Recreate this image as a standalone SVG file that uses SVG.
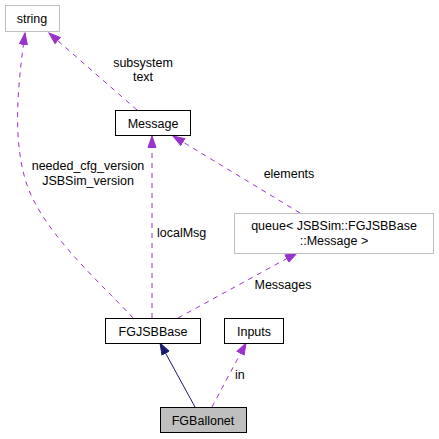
<svg xmlns="http://www.w3.org/2000/svg" width="439" height="439" viewBox="0 0 439 439">
<style>
text{font-family:"Liberation Sans",Arial,sans-serif;font-size:12.5px;fill:#000}
.c{text-anchor:middle}
.box{fill:#fff;stroke:#000;stroke-width:1}
.grey{fill:#fff;stroke:#bfbfbf;stroke-width:1}
.dash{fill:none;stroke:#9a32cd;stroke-width:1;stroke-dasharray:5,5}
.solid{fill:none;stroke:#191970;stroke-width:1}
</style>
<defs>
<marker id="ap" markerUnits="userSpaceOnUse" markerWidth="13" markerHeight="10" refX="12" refY="4.5" orient="auto" viewBox="0 0 13 9">
<polygon points="0.5,0.5 12,4.5 0.5,8.5" fill="#9a32cd" stroke="#9a32cd"/>
</marker>
<marker id="an" markerUnits="userSpaceOnUse" markerWidth="13" markerHeight="10" refX="12" refY="4.5" orient="auto" viewBox="0 0 13 9">
<polygon points="0.5,0.5 12,4.5 0.5,8.5" fill="#191970" stroke="#191970"/>
</marker>
</defs>
<g id="edges">
<path class="dash" d="M137,110 L49,33" marker-end="url(#ap)"/>
<path class="dash" d="M133,318 C100,282 42,232 26,182 C13,140 17,90 25,33" marker-end="url(#ap)"/>
<path class="dash" d="M152,318 L152,136" marker-end="url(#ap)"/>
<path class="dash" d="M300,213 L173,136" marker-end="url(#ap)"/>
<path class="dash" d="M178,318 L297,253" marker-end="url(#ap)"/>
<path class="solid" d="M195,407 L160,343" marker-end="url(#an)"/>
<path class="dash" d="M212,407 L246,343" marker-end="url(#ap)"/>
<text class="c" x="143" y="67">subsystem</text>
<text class="c" x="143" y="81">text</text>
<text class="c" x="88" y="170">needed_cfg_version</text>
<text class="c" x="88" y="185">JSBSim_version</text>
<text x="157" y="237">localMsg</text>
<text class="c" x="289" y="178">elements</text>
<text class="c" x="283" y="289">Messages</text>
<text x="235" y="379">in</text>
</g>
<g id="string"><rect class="grey" x="5.5" y="5.5" width="54" height="26"/><text class="c" x="32" y="22.5">string</text></g>
<g id="Message"><rect class="box" x="115.5" y="110.5" width="75" height="25"/><text class="c" x="153" y="127.5">Message</text></g>
<g id="queue"><rect class="grey" x="234.5" y="213.5" width="199" height="40"/><text class="c" x="334" y="230">queue&lt; JSBSim::FGJSBBase</text><text class="c" x="334" y="245">::Message &gt;</text></g>
<g id="FGJSBBase"><rect class="box" x="105.5" y="318.5" width="95" height="25"/><text class="c" x="153" y="335.5">FGJSBBase</text></g>
<g id="Inputs"><rect class="box" x="224.5" y="318.5" width="59" height="25"/><text class="c" x="254" y="335.5">Inputs</text></g>
<g id="FGBallonet"><rect x="160.5" y="407.5" width="86" height="25" fill="#bfbfbf" stroke="#000"/><text class="c" x="203" y="424.5">FGBallonet</text></g>
</svg>
